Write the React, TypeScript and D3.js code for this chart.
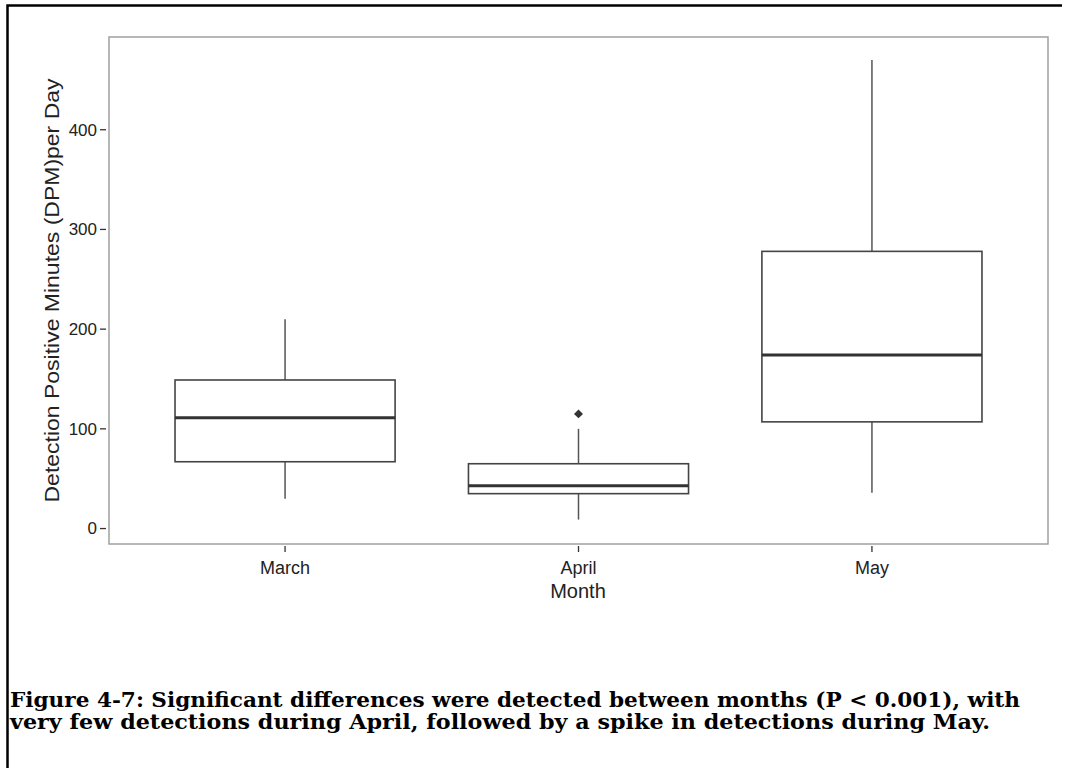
import React from "react";
import * as d3 from "d3";

const months = ["March", "April", "May"];
const whiskerLow = [30, 9, 36];
const q1 = [67, 35, 107];
const median = [111, 43, 174];
const q3 = [149, 65, 278];
const whiskerHigh = [210, 100, 470];
const outlierMonth = ["April"];
const outlierValue = [115];
const yTicks = [0, 100, 200, 300, 400];
const yTitle = "Detection Positive Minutes (DPM)per Day";
const xTitle = "Month";
const caption1 = "Figure 4-7: Significant differences were detected between months (P < 0.001), with";
const caption2 = "very few detections during April, followed by a spike in detections during May.";

const W = 1067;
const H = 768;
const plot = { left: 109, right: 1048, top: 37, bottom: 544 };

export default function App() {
  const x = d3
    .scaleBand<string>()
    .domain(months)
    .range([plot.left, plot.right])
    .paddingInner(0.25)
    .paddingOuter(0.225);
  const y = d3.scaleLinear().domain([-15.5, 493]).range([plot.bottom, plot.top]);
  const bw = x.bandwidth();
  const sans = "'Liberation Sans', Arial, sans-serif";
  const boxColor = "#444";
  const diamond = d3.symbol().type(d3.symbolSquare).size(40)();

  return (
    <svg
      width={W}
      height={H}
      style={{ position: "absolute", left: 0, top: 0, background: "#fff" }}
    >
      <rect x={0} y={0} width={W} height={H} fill="#fff" />
      {/* outer frame */}
      <path d={`M7.5,${H} L7.5,5.5 L1062,5.5`} fill="none" stroke="#000" strokeWidth={2.5} />
      {/* plot frame */}
      <rect
        x={plot.left}
        y={plot.top}
        width={plot.right - plot.left}
        height={plot.bottom - plot.top}
        fill="none"
        stroke="#a0a0a0"
        strokeWidth={1.5}
      />
      {/* y ticks */}
      {yTicks.map((t) => (
        <g key={t}>
          <line x1={100} x2={106} y1={y(t)} y2={y(t)} stroke="#333" strokeWidth={1.3} />
          <text
            x={97}
            y={y(t)}
            dy="0.35em"
            textAnchor="end"
            fontFamily={sans}
            fontSize={17}
            fill="#222"
          >
            {t}
          </text>
        </g>
      ))}
      {/* x ticks */}
      {months.map((m) => {
        const cx = (x(m) as number) + bw / 2;
        return (
          <g key={m}>
            <line x1={cx} x2={cx} y1={546} y2={552} stroke="#333" strokeWidth={1.3} />
            <text x={cx} y={574} textAnchor="middle" fontFamily={sans} fontSize={18} fill="#222">
              {m}
            </text>
          </g>
        );
      })}
      {/* boxes */}
      {months.map((m, i) => {
        const x0 = x(m) as number;
        const cx = x0 + bw / 2;
        return (
          <g key={m}>
            <line x1={cx} x2={cx} y1={y(whiskerHigh[i])} y2={y(q3[i])} stroke="#555" strokeWidth={1.5} />
            <line x1={cx} x2={cx} y1={y(q1[i])} y2={y(whiskerLow[i])} stroke="#555" strokeWidth={1.5} />
            <rect
              x={x0}
              y={y(q3[i])}
              width={bw}
              height={y(q1[i]) - y(q3[i])}
              fill="#fff"
              stroke={boxColor}
              strokeWidth={1.6}
            />
            <line x1={x0} x2={x0 + bw} y1={y(median[i])} y2={y(median[i])} stroke="#333" strokeWidth={3} />
          </g>
        );
      })}
      {/* outliers */}
      {outlierMonth.map((m, i) => (
        <path
          key={i}
          d={diamond as string}
          transform={`translate(${(x(m) as number) + bw / 2},${y(outlierValue[i])}) rotate(45)`}
          fill="#333"
        />
      ))}
      {/* axis titles */}
      <text x={(plot.left + plot.right) / 2 - 0.5} y={598} textAnchor="middle" fontFamily={sans} fontSize={20} fill="#222">
        {xTitle}
      </text>
      <text
        transform={`translate(59,${(plot.top + plot.bottom) / 2}) rotate(-90)`}
        textAnchor="middle"
        fontFamily={sans}
        fontSize={20}
        fill="#222"
        textLength={424}
        lengthAdjust="spacingAndGlyphs"
      >
        {yTitle}
      </text>
      {/* caption */}
      <text x={10} y={707} fontFamily="'DejaVu Serif', serif" fontWeight="bold" fontSize={19.5} fill="#000" textLength={1010} lengthAdjust="spacingAndGlyphs">
        {caption1}
      </text>
      <text x={10} y={729} fontFamily="'DejaVu Serif', serif" fontWeight="bold" fontSize={19.5} fill="#000" textLength={980} lengthAdjust="spacingAndGlyphs">
        {caption2}
      </text>
    </svg>
  );
}
